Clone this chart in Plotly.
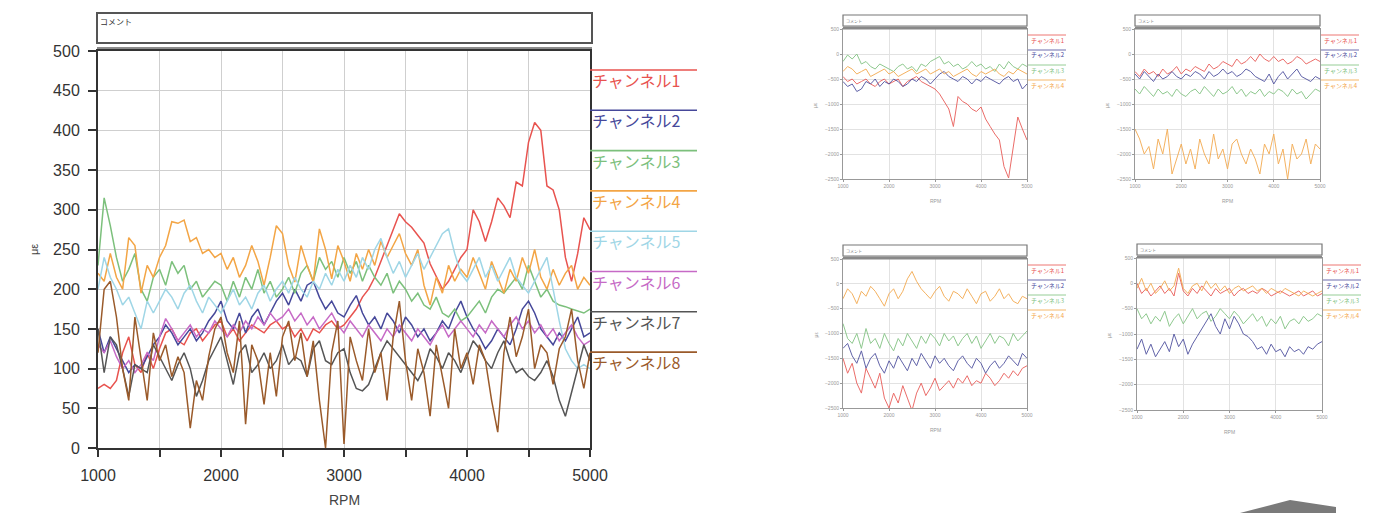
import plotly.graph_objects as go

# screen size and page offset (browser body margin)
SCREEN_W, SCREEN_H = 1386, 513
OFF = 8
W, H = SCREEN_W - OFF, SCREEN_H - OFF

# ---------------- data ----------------
RPM_MAIN = list(range(1000, 5001, 50))
RPM_SMALL = list(range(1000, 5001, 100))

CHANNELS = ["チャンネル1", "チャンネル2", "チャンネル3", "チャンネル4",
            "チャンネル5", "チャンネル6", "チャンネル7", "チャンネル8"]
COLORS = ["#e8534f", "#46489a", "#7cc07c", "#f3a545",
          "#9fd6e6", "#c66ac6", "#555555", "#9a5a2a"]

ch1 = [75, 80, 75, 85, 120, 140, 105, 95, 120, 100,
       125, 145, 150, 135, 130, 145, 150, 135, 145, 155,
       160, 140, 150, 135, 145, 155, 150, 145, 155, 160,
       150, 155, 140, 150, 135, 150, 145, 155, 160, 150,
       155, 165, 175, 190, 200, 215, 235, 255, 275, 295,
       285, 278, 268, 258, 232, 215, 200, 210, 225, 240,
       250, 300, 285, 260, 285, 315, 305, 290, 335, 330,
       385, 410, 400, 330, 325, 300, 240, 210, 245, 290,
       275]
ch2 = [150, 120, 140, 125, 110, 95, 105, 100, 115, 130,
       140, 155, 145, 130, 140, 150, 135, 145, 160, 170,
       185, 160, 150, 170, 145, 165, 175, 155, 170, 185,
       195, 180, 200, 185, 205, 210, 190, 175, 185, 170,
       165, 180, 192, 170, 155, 165, 150, 170, 160, 145,
       165, 155, 140, 150, 135, 145, 160, 150, 170, 185,
       165, 150, 140, 125, 135, 150, 140, 130, 150, 175,
       185, 170, 150, 140, 130, 145, 135, 150, 165, 140,
       145]
ch3 = [230, 315, 280, 240, 210, 225, 245, 200, 185, 215,
       225, 205, 235, 220, 230, 200, 210, 190, 200, 210,
       205, 185, 210, 190, 215, 200, 225, 195, 210, 190,
       200, 215, 195, 220, 230, 210, 240, 225, 235, 215,
       240, 220, 235, 210, 230, 215, 205, 220, 195, 210,
       200, 185, 195, 180, 175, 190, 170, 165, 175, 160,
       165, 175, 185, 170, 190, 200, 195, 205, 215, 200,
       230, 210, 190, 200, 185, 180, 178, 175, 172, 170,
       175]
ch4 = [220, 210, 245, 215, 200, 265, 255, 195, 230, 215,
       240, 255, 285, 283, 287, 260, 265, 245, 250, 240,
       245, 225, 240, 215, 230, 255, 235, 205, 240, 280,
       270, 230, 209, 255, 230, 209, 276, 250, 213, 255,
       235, 210, 245, 225, 250, 230, 260, 240, 255, 270,
       245, 230, 250, 205, 180, 215, 195, 230, 210, 225,
       215, 240, 220, 200, 235, 215, 195, 225, 210, 240,
       220, 250, 215, 200, 225, 205, 220, 230, 200, 215,
       205]
ch5 = [200, 240, 215, 200, 180, 190, 170, 150, 185, 170,
       185, 200, 190, 175, 195, 205, 185, 170, 190, 180,
       170, 185, 200, 180, 190, 175, 195, 205, 185, 200,
       210, 195, 215, 200, 190, 210, 200, 220, 205, 225,
       210, 230, 215, 240, 225, 250, 264, 240, 220, 235,
       215, 230, 245, 225, 240, 255, 270, 276, 245, 220,
       210, 225, 240, 215, 230, 210, 225, 240, 215, 205,
       195, 210, 225, 240, 200, 160, 125, 110, 100, 105,
       100]
ch6 = [130, 120, 135, 115, 100, 110, 95, 105, 120, 110,
       140, 163, 150, 135, 145, 155, 140, 150, 145, 160,
       150, 140, 155, 145, 160, 150, 165, 155, 170, 160,
       165, 175, 160, 170, 155, 165, 150, 160, 170, 155,
       145, 160, 150, 140, 155, 145, 135, 150, 140, 155,
       145, 135, 150, 140, 130, 145, 155, 140, 150, 160,
       150, 140, 155, 145, 160, 150, 140, 155, 165, 150,
       160, 145, 155, 140, 150, 135, 145, 155, 140, 130,
       135]
ch7 = [150, 95, 140, 130, 100, 65, 105, 100, 95, 130,
       115, 100, 85, 105, 120, 100, 65, 85, 110, 125,
       140, 110, 80, 120, 130, 95, 105, 120, 100, 110,
       130, 105, 115, 110, 90, 125, 135, 110, 105, 120,
       125, 95, 75, 72, 80, 100, 120, 135, 125, 115,
       105, 95, 85, 100, 125, 115, 100, 120, 110, 95,
       115, 135, 125, 110, 100, 120, 135, 110, 95, 100,
       90, 85, 95, 110, 90, 60, 40, 70, 100, 130,
       110]
ch8 = [120, 200, 210, 165, 100, 60, 165, 110, 60, 145,
       110, 130, 90, 115, 95, 25, 85, 60, 115, 150,
       165, 120, 95, 160, 30, 130, 110, 55, 120, 65,
       140, 160, 110, 145, 90, 135, 60, 0, 120, 160,
       5, 140, 110, 85, 150, 95, 120, 60, 140, 185,
       110, 60, 125, 95, 40, 130, 90, 50, 150, 100,
       120, 80, 130, 110, 60, 20, 120, 165, 115, 140,
       175, 100, 130, 120, 80, 125, 140, 175, 110, 75,
       120]
MAIN_SERIES = [ch1, ch2, ch3, ch4, ch5, ch6, ch7, ch8]

X_TICKS_MAIN = [1000, 1500, 2000, 2500, 3000, 3500, 4000, 4500, 5000]
X_TICKTEXT_MAIN = ["1000", "", "2000", "", "3000", "", "4000", "", "5000"]
Y_TICKS_MAIN = [0, 50, 100, 150, 200, 250, 300, 350, 400, 450, 500]

# small panels (red, blue, green, orange)
SMALL_COLORS = ["#e8534f", "#46489a", "#7cc07c", "#f3a545"]
SMALL_NAMES = ["チャンネル1", "チャンネル2", "チャンネル3", "チャンネル4"]

tl_red = [-450, -550, -500, -600, -550, -500, -600, -650, -550, -500,
          -600, -550, -500, -650, -550, -500, -450, -550, -600, -660,
          -700, -800, -950, -1100, -1450, -850, -950, -1000, -1100, -1150,
          -1060, -1300, -1450, -1600, -1720, -2250, -2480, -1900, -1260, -1500,
          -1720]
tl_blue = [-550, -650, -600, -750, -700, -550, -600, -500, -650, -550,
           -600, -500, -550, -650, -600, -500, -550, -450, -500, -600,
           -500, -400, -350, -450, -500, -550, -450, -500, -600, -500,
           -550, -450, -500, -550, -600, -500, -450, -550, -500, -700,
           -600]
tl_green = [-150, -20, -100, 0, -200, -150, -250, -300, -200, -250,
            -300, -350, -250, -200, -300, -250, -350, -200, -250, -150,
            -100, -50, -200, -150, -250, -200, -300, -250, -150, -250,
            -200, -300, -250, -350, -200, -300, -150, -250, -300, -200,
            -250]
tl_orange = [-350, -250, -300, -400, -350, -300, -450, -400, -350, -300,
             -400, -350, -450, -400, -350, -300, -400, -350, -300, -400,
             -350, -300, -400, -350, -450, -400, -350, -300, -400, -450,
             -350, -400, -350, -300, -400, -450, -350, -400, -300, -350,
             -400]

tr_red = [-350, -450, -300, -400, -350, -450, -300, -400, -350, -250,
          -400, -300, -350, -250, -300, -350, -200, -300, -250, -150,
          -200, -250, -100, -200, -150, -50, -150, 0, -100, -150,
          -50, -150, -100, -200, -150, -50, -100, -200, -150, -100,
          -150]
tr_blue = [-400, -500, -350, -450, -550, -400, -500, -450, -350, -450,
           -500, -400, -450, -350, -400, -500, -350, -450, -400, -300,
           -400, -350, -450, -400, -300, -350, -450, -500, -550, -400,
           -600, -450, -350, -500, -400, -300, -450, -500, -550, -450,
           -500]
tr_green = [-700, -800, -650, -750, -850, -700, -800, -750, -850, -700,
            -800, -850, -750, -700, -800, -650, -750, -850, -700, -800,
            -750, -650, -800, -700, -850, -750, -800, -700, -850, -750,
            -800, -700, -750, -850, -700, -800, -750, -900, -800, -700,
            -750]
tr_orange = [-1500, -1700, -2000, -1850, -2300, -1700, -2000, -1500, -2400, -2100,
             -1800, -2200, -1900, -2300, -1700, -2000, -2200, -1600, -2100, -1900,
             -2300, -1800, -1700, -2000, -2200, -1900, -2100, -2400, -1800, -2000,
             -1600, -2200, -1900, -2500, -1800, -2100, -2000, -1700, -2200, -1800,
             -1900]

bl_red = [-1500, -1800, -1600, -2000, -2200, -1700, -1900, -2100, -1800, -2300,
          -2500, -2200, -2400, -2050, -2300, -2550, -2200, -2000, -2250, -2100,
          -1900, -2150, -2050, -1950, -2100, -1900, -2000, -1850, -2050, -1950,
          -2000, -1800, -1900, -2050, -1950, -1800, -1900, -1750, -1850, -1700,
          -1650]
bl_blue = [-1300, -1200, -1450, -1600, -1350, -1700, -1500, -1400, -1650, -1800,
           -1550, -1700, -1450, -1600, -1750, -1500, -1650, -1400, -1550, -1700,
           -1450, -1600, -1500, -1650, -1750, -1550, -1450, -1600, -1700, -1500,
           -1600, -1800, -1650, -1550, -1700, -1600, -1450, -1550, -1650, -1400,
           -1500]
bl_green = [-800, -1100, -1200, -1000, -1300, -900, -1200, -1100, -1300, -1000,
            -1200, -1350, -1100, -1250, -1000, -1150, -1300, -1050, -1200, -1000,
            -1100, -1250, -1000, -1150, -1050, -1250, -1100, -1000, -1200, -1050,
            -1300, -1150, -1000, -1200, -1050, -1100, -1250, -1000, -1150, -1050,
            -950]
bl_orange = [-300, -100, -200, -400, -150, -250, -50, -150, -300, -450,
             -200, -100, -300, -150, 100, 250, 50, -100, -200, -300,
             -150, -50, -250, -350, -150, -200, -300, -100, -250, -400,
             -200, -150, -350, -250, -100, -300, -200, -350, -400, -250,
             -300]

br_red = [0, -200, -100, -250, -150, -50, -200, -100, -250, 200,
          -150, -250, -100, -200, -50, -150, -250, -100, -200, -150,
          -100, -250, -150, -100, -200, -150, -200, -100, -150, -250,
          -200, -150, -200, -250, -200, -150, -250, -200, -150, -250,
          -200]
br_blue = [-1300, -1100, -1400, -1200, -1450, -1300, -1150, -1350, -1000, -1250,
           -1100, -1400, -1200, -1050, -900, -750, -600, -850, -1000, -700,
           -900, -650, -800, -1000, -1050, -1150, -1300, -1250, -1400, -1200,
           -1350, -1300, -1450, -1250, -1350, -1300, -1400, -1250, -1300, -1200,
           -1150]
br_green = [-500, -700, -600, -800, -650, -750, -550, -850, -700, -600,
            -800, -650, -500, -700, -600, -550, -750, -650, -500, -600,
            -700, -550, -650, -800, -700, -600, -750, -650, -850, -700,
            -800, -650, -900, -750, -700, -800, -650, -750, -700, -600,
            -650]
br_orange = [-100, 100, -150, 0, -200, -100, 50, -150, -50, 300,
             -100, -200, -50, 0, -150, 50, -100, 0, -150, -50,
             -200, -100, -50, -150, -100, -50, -150, -100, -200, -100,
             -150, -200, -100, -150, -200, -250, -150, -200, -250, -200,
             -150]

SMALL_SERIES = {
    "TL": [tl_red, tl_blue, tl_green, tl_orange],
    "TR": [tr_red, tr_blue, tr_green, tr_orange],
    "BL": [bl_red, bl_blue, bl_green, bl_orange],
    "BR": [br_red, br_blue, br_green, br_orange],
}
X_TICKS_SMALL = [1000, 2000, 3000, 4000, 5000]
Y_TICKS_SMALL = [-2500, -2000, -1500, -1000, -500, 0, 500]

for s in MAIN_SERIES:
    assert len(s) == len(RPM_MAIN), len(s)
for k, v in SMALL_SERIES.items():
    for s in v:
        assert len(s) == len(RPM_SMALL), (k, len(s))

# ---------------- helpers (screen pixel -> paper fraction) ----------------
def px(x):
    return (x - OFF) / W

def py(y):
    return 1 - (y - OFF) / H

FONT = "Liberation Sans, Arial, sans-serif"
JFONT = "Noto Sans CJK JP, sans-serif"

fig = go.Figure()

# main chart
for name, col, vals in zip(CHANNELS, COLORS, MAIN_SERIES):
    fig.add_trace(go.Scatter(x=RPM_MAIN, y=vals, mode="lines", name=name,
                             line=dict(color=col, width=1.5),
                             xaxis="x", yaxis="y"))

# small panels: (key, axis index, x px range, y px range)
PANELS = [
    ("TL", 2, (843, 1027), (29, 179)),
    ("TR", 3, (1135, 1320), (29, 179)),
    ("BL", 4, (843, 1027), (259, 408)),
    ("BR", 5, (1137, 1322), (258, 410)),
]
for key, idx, _, _ in PANELS:
    for name, col, vals in zip(SMALL_NAMES, SMALL_COLORS, SMALL_SERIES[key]):
        fig.add_trace(go.Scatter(x=RPM_SMALL, y=vals, mode="lines", name=name,
                                 line=dict(color=col, width=1), opacity=0.85,
                                 xaxis=f"x{idx}", yaxis=f"y{idx}"))

layout = dict(
    width=W, height=H,
    margin=dict(l=0, r=0, t=0, b=0, pad=0, autoexpand=False),
    paper_bgcolor="white", plot_bgcolor="white", showlegend=False,
    xaxis=dict(domain=[px(98), px(590)], range=[1000, 5000],
               tickvals=X_TICKS_MAIN, ticktext=X_TICKTEXT_MAIN,
               showgrid=True, gridcolor="#cfcfcf", gridwidth=1,
               showline=True, linecolor="#333", linewidth=2, mirror=True,
               ticks="outside", ticklen=7, tickcolor="#333", tickwidth=1.5,
               tickfont=dict(family=FONT, size=16, color="#333"),
               ticklabelstandoff=5, zeroline=False, anchor="y", automargin=False),
    yaxis=dict(domain=[py(448), py(51)], range=[0, 500],
               tickvals=Y_TICKS_MAIN,
               showgrid=True, gridcolor="#cfcfcf", gridwidth=1,
               showline=True, linecolor="#333", linewidth=2, mirror=True,
               ticks="outside", ticklen=8, tickcolor="#333", tickwidth=1.5,
               tickfont=dict(family=FONT, size=16, color="#333"),
               ticklabelstandoff=5, zeroline=False, anchor="x", automargin=False),
)
for key, idx, (x0, x1), (y0, y1) in PANELS:
    layout[f"xaxis{idx}"] = dict(
        domain=[px(x0), px(x1)], range=[1000, 5000], tickvals=X_TICKS_SMALL,
        showgrid=True, gridcolor="#e2e2e2", showline=True, linecolor="#999",
        linewidth=1, mirror=True, ticks="outside", ticklen=2, tickcolor="#999",
        tickfont=dict(family=FONT, size=5, color="#999"), zeroline=False,
        anchor=f"y{idx}", automargin=False)
    layout[f"yaxis{idx}"] = dict(
        domain=[py(y1), py(y0)], range=[-2500, 500], tickvals=Y_TICKS_SMALL,
        showgrid=True, gridcolor="#e2e2e2", showline=True, linecolor="#999",
        linewidth=1, mirror=True, ticks="outside", ticklen=2, tickcolor="#999",
        tickfont=dict(family=FONT, size=5, color="#999"), zeroline=False,
        anchor=f"x{idx}", automargin=False)
fig.update_layout(**layout)

shapes = []
annotations = []

# main comment box and top double line
shapes.append(dict(type="rect", xref="paper", yref="paper",
                   x0=px(97), x1=px(592), y0=py(43), y1=py(13),
                   line=dict(color="#555", width=2), fillcolor="white"))
shapes.append(dict(type="line", xref="paper", yref="paper",
                   x0=px(97), x1=px(592), y0=py(48), y1=py(48),
                   line=dict(color="#666", width=1.5)))
annotations.append(dict(text="コメント", xref="paper", yref="paper",
                        x=px(98), y=py(14), xanchor="left", yanchor="top",
                        showarrow=False, font=dict(family=JFONT, size=8, color="#333")))
# main axis titles
annotations.append(dict(text="RPM", xref="paper", yref="paper",
                        x=px(344), y=py(500), xanchor="center", yanchor="middle",
                        showarrow=False, font=dict(family=FONT, size=14, color="#444")))
annotations.append(dict(text="με", xref="paper", yref="paper", textangle=-90,
                        x=px(34), y=py(250), xanchor="center", yanchor="middle",
                        showarrow=False, font=dict(family=FONT, size=11, color="#444")))
# main legend
for i, (name, col) in enumerate(zip(CHANNELS, COLORS)):
    yl = 70 + 40.3 * i
    shapes.append(dict(type="line", xref="paper", yref="paper",
                       x0=px(590), x1=px(697), y0=py(yl), y1=py(yl),
                       line=dict(color=col, width=1.6)))
    annotations.append(dict(text=name, xref="paper", yref="paper",
                            x=px(590), y=py(yl + 10), xanchor="left", yanchor="middle",
                            showarrow=False,
                            font=dict(family=JFONT, size=16, color=col)))

# small panel decorations
LEG_X = {"TL": 1028, "TR": 1321, "BL": 1028, "BR": 1323}
LEG_Y0 = {"TL": 40, "TR": 40, "BL": 270, "BR": 270}
for key, idx, (x0, x1), (y0, y1) in PANELS:
    shapes.append(dict(type="rect", xref="paper", yref="paper",
                       x0=px(x0), x1=px(x1), y0=py(y0 - 3), y1=py(y0 - 14),
                       line=dict(color="#777", width=1.2), fillcolor="white"))
    shapes.append(dict(type="line", xref="paper", yref="paper",
                       x0=px(x0), x1=px(x1), y0=py(y0 - 1), y1=py(y0 - 1),
                       line=dict(color="#888", width=3)))
    annotations.append(dict(text="コメント", xref="paper", yref="paper",
                            x=px(x0 + 1), y=py(y0 - 13), xanchor="left", yanchor="top",
                            showarrow=False, font=dict(family=JFONT, size=4, color="#777")))
    annotations.append(dict(text="RPM", xref="paper", yref="paper",
                            x=px((x0 + x1) / 2), y=py(y1 + 22), xanchor="center",
                            yanchor="middle", showarrow=False,
                            font=dict(family=FONT, size=5, color="#999")))
    annotations.append(dict(text="με", xref="paper", yref="paper", textangle=-90,
                            x=px(x0 - 28), y=py((y0 + y1) / 2 + 1), xanchor="center",
                            yanchor="middle", showarrow=False,
                            font=dict(family=FONT, size=5, color="#999")))
    for i, (name, col) in enumerate(zip(SMALL_NAMES, SMALL_COLORS)):
        yl = LEG_Y0[key] + 15 * i
        shapes.append(dict(type="line", xref="paper", yref="paper",
                           x0=px(LEG_X[key]), x1=px(LEG_X[key] + 38),
                           y0=py(yl - 5), y1=py(yl - 5),
                           line=dict(color=col, width=0.8)))
        annotations.append(dict(text=name, xref="paper", yref="paper",
                                x=px(LEG_X[key] + 1), y=py(yl), xanchor="left",
                                yanchor="middle", showarrow=False,
                                font=dict(family=JFONT, size=6, color=col)))

# decorative grey chevron at bottom right
shapes.append(dict(type="path", xref="paper", yref="paper",
                   path=f"M {px(1240)},{py(513)} L {px(1290)},{py(500)} "
                        f"L {px(1336)},{py(507)} L {px(1336)},{py(513)} Z",
                   fillcolor="#7a7a7a", line=dict(width=0)))

fig.update_layout(shapes=shapes, annotations=annotations)
fig.write_html("out.html")
